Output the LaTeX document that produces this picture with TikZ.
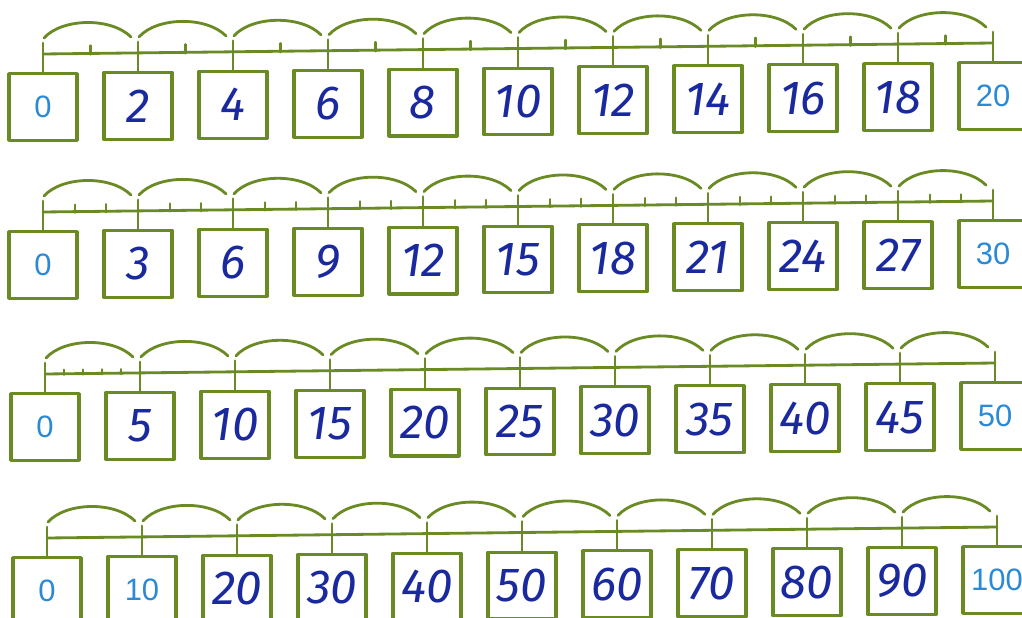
\documentclass[tikz,border=0pt]{standalone}
\usepackage{fontspec}
\setsansfont{Liberation Sans}
\newfontfamily\handfont{Fira Sans}
\usetikzlibrary{calc}

\begin{document}
\begin{tikzpicture}[x=0.025cm,y=-0.025cm,line cap=round,line join=round,
  axis/.style={draw=lin,line width=2pt},
  minor/.style={draw=lin,line width=1.6pt},
  numbox/.style={draw=lin,line width=2.2pt,minimum width=1.7cm,
    minimum height=1.67cm,inner sep=0pt,anchor=north},
  prtnum/.style={numbox,text=prt,font=\sffamily\fontsize{22}{22}\selectfont},
  handnum/.style={numbox,text=hand,font=\handfont\itshape\fontsize{34}{34}\selectfont}]
  \definecolor{lin}{HTML}{6A8A24}
  \definecolor{prt}{HTML}{2A8AD6}
  \definecolor{hand}{HTML}{1A2A9E}

  \fill[white] (0,0) rectangle (1022,618);
  \useasboundingbox (0,0) rectangle (1022,618);
  \clip (0,0) rectangle (1022,618);

  % rows: index / first tick x / line y / jump / first hand box / minor ticks / jumps with minor ticks / minor length
  \foreach \r/\xo/\ly/\jmp/\hs/\mn/\ms/\ml in
    {1/43/54/2/1/1/10/9, 2/43/212/3/1/2/10/8, 3/45/374/5/1/4/1/5, 4/47/538/10/2/1/0/0}{
    \foreach \k in {0,...,10}{
      \pgfmathsetmacro\tx{\xo+95*\k}
      \pgfmathsetmacro\ty{\ly-1.1*\k}
      \pgfmathtruncatemacro\val{\k*\jmp}
      \coordinate (l\r-\k) at (\tx,\ty);
      \coordinate (t\r-\k) at (\tx,\ty-11);
      % printed numbers at the ends, handwritten ones between
      \ifnum\k<\hs \tikzset{numsty/.style={prtnum}}%
      \else\ifnum\k=10 \tikzset{numsty/.style={prtnum}}%
      \else \tikzset{numsty/.style={handnum}}\fi\fi
      \node[numsty] (b\r-\k) at (\tx,\ty+18) {\val};
      \draw[axis] (t\r-\k) -- (b\r-\k.north);
      \ifnum\k<10
        % jump arc
        \coordinate (a\r-\k) at (\tx+1,\ty-16);
        \coordinate (e\r-\k) at (\tx+88,\ty-17);
        \draw[axis] (a\r-\k) .. controls ($(a\r-\k)+(18,-20)$) and ($(e\r-\k)+(-20,-20)$) .. (e\r-\k);
        % minor ticks
        \ifnum\k<\ms
          \foreach \j in {1,...,\mn}{
            \pgfmathsetmacro\mx{\tx+95*\j/(\mn+1)}
            \draw[minor] (\mx,{\ty-1.1*\j/(\mn+1)+1}) -- ++(0,-\ml);
          }
        \fi
      \fi
    }
    \draw[axis] (l\r-0) -- (l\r-10);
  }
\end{tikzpicture}
\end{document}
